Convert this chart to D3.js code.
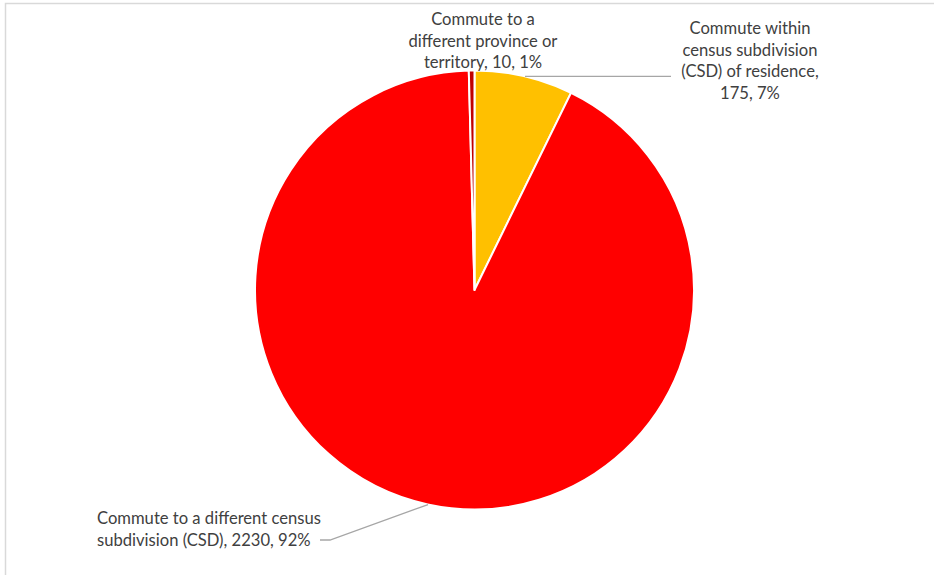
<!DOCTYPE html>
<html>
<head>
<meta charset="utf-8">
<script src="https://cdn.jsdelivr.net/npm/d3@7"></script>
<style>
  html, body { margin: 0; padding: 0; background: #ffffff; }
  svg { display: block; }
</style>
</head>
<body>
<svg id="chart" width="934" height="575"></svg>
<script>
// Commuting destination of residents
const categories = [
  "Commute within census subdivision (CSD) of residence",
  "Commute to a different census subdivision (CSD)",
  "Commute to a different province or territory"
];
const values = [175, 2230, 10];
const percentLabels = ["7%", "92%", "1%"];
const colors = ["#FFC000", "#FF0000", "#C00000"];

// Data label lines (wrapped as in the chart)
const labelLines = [
  ["Commute within", "census subdivision", "(CSD) of residence,", "175, 7%"],
  ["Commute to a different census", "subdivision (CSD), 2230, 92%"],
  ["Commute to a", "different province or", "territory, 10, 1%"]
];

const svg = d3.select("#chart");
const W = 934, H = 575;
const cx = 474.5, cy = 290, R = 219.5;

// chart area frame (top and left edges visible)
svg.append("path")
  .attr("d", `M5.5,${H} L5.5,3.5 L${W},3.5`)
  .attr("fill", "none")
  .attr("stroke", "#d9d9d9")
  .attr("stroke-width", 1.5);

const pie = d3.pie().sort(null).value(d => d)(values);
const arc = d3.arc().innerRadius(0).outerRadius(R);

const g = svg.append("g").attr("transform", `translate(${cx},${cy})`);
g.selectAll("path.slice")
  .data(pie)
  .join("path")
  .attr("class", "slice")
  .attr("d", arc)
  .attr("fill", (d, i) => colors[i])
  .attr("stroke", "#ffffff")
  .attr("stroke-width", 2)
  .attr("stroke-linejoin", "round");

const font = "Lato, 'Open Sans', sans-serif";
const textColor = "#404040";
const lineH = 21.7;

// label positions: [anchor x, first baseline y, text-anchor]
const labelPos = [
  [750, 34, "middle"],
  [97, 524, "start"],
  [483, 25, "middle"]
];

labelLines.forEach((lines, i) => {
  const [x, y, anchor] = labelPos[i];
  const t = svg.append("text")
    .attr("font-family", font)
    .attr("font-size", 16.6)
    .attr("fill", textColor)
    .attr("text-anchor", anchor);
  lines.forEach((s, j) => {
    t.append("tspan").attr("x", x).attr("y", y + j * lineH).text(s);
  });
});

// leader lines from slice edge to labels
function edgePoint(xTarget, upper) {
  const dx = xTarget - cx;
  const dy = Math.sqrt(R * R - dx * dx);
  return [xTarget, upper ? cy - dy : cy + dy];
}
const p1 = edgePoint(525, true);
const p2 = edgePoint(428, false);
const leaders = [
  [p1, [671, p1[1]]],
  [p2, [330, 540], [320, 540]]
];
const line = d3.line();
svg.selectAll("path.leader")
  .data(leaders)
  .join("path")
  .attr("class", "leader")
  .attr("d", d => line(d))
  .attr("fill", "none")
  .attr("stroke", "#a6a6a6")
  .attr("stroke-width", 1.3);
</script>
</body>
</html>
